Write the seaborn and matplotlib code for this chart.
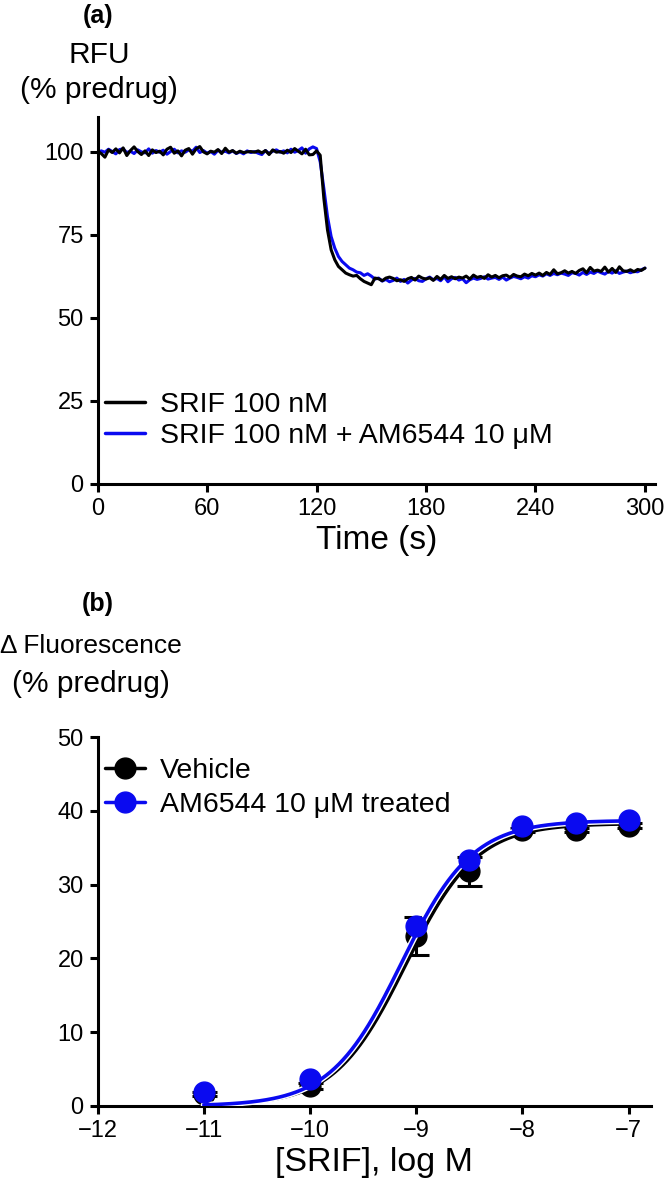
import numpy as np
import matplotlib
matplotlib.use("Agg")
import matplotlib.pyplot as plt
import matplotlib.patheffects as pe
from matplotlib.lines import Line2D
import seaborn as sns

# ---- panel (a): calcium traces, sampled every 2 s ----
time_s = list(range(0, 302, 2))
srif = [
    100.2, 99.5, 98.4, 100.6, 99.8, 100.9, 99.7, 101.2, 98.9, 100.4,
    101.5, 100.1, 99.2, 100.3, 98.9, 100.6, 99.8, 100.2, 99.1, 100.8,
    101.4, 99.6, 100.3, 98.8, 100.5, 101.0, 99.3, 100.9, 101.6, 100.0,
    99.4, 100.2, 99.9, 100.7, 99.5, 101.1, 99.9, 100.4, 99.6, 100.2,
    99.8, 100.0, 100.1, 99.9, 100.3, 99.7, 100.4, 99.2, 100.6, 99.9,
    100.1, 99.6, 100.5, 99.8, 101.0, 100.2, 99.4, 100.8, 99.1, 99.2,
    100.3,
    99.0, 86.0, 76.5, 70.5, 67.5, 65.5, 64.5, 63.5, 63.0, 62.6,
    62.8, 61.8, 61.0, 60.5, 60.0, 62.0, 61.8, 61.2, 62.0, 62.3,
    61.9, 61.2, 61.5, 61.0, 61.8, 62.2, 61.4, 62.6, 62.0, 61.7,
    62.1, 61.3, 62.5, 61.6, 62.8, 61.9, 62.4, 61.8, 62.3, 62.0,
    62.6, 61.7, 62.9, 62.2, 62.5, 61.9, 63.0, 62.3, 62.8, 62.1,
    62.7, 62.9, 62.2, 63.1, 62.6, 62.4, 63.2, 62.7, 63.4, 62.9,
    63.5, 62.8, 63.7, 63.1, 64.5, 63.3, 63.6, 64.2, 63.5, 64.0,
    63.4, 64.3, 64.8, 63.6, 65.2, 64.1, 64.4, 64.0, 65.3, 63.8,
    64.9, 63.7, 65.4, 64.2, 64.0, 64.5, 63.9, 64.6, 64.3, 65.0,
]
srif_am = [
    99.6, 100.3, 99.9, 100.8, 100.1, 99.4, 100.7, 100.9, 99.8, 100.2,
    99.5, 100.6, 100.0, 99.7, 100.9, 99.6, 100.4, 99.9, 100.5, 99.3,
    100.1, 100.8, 99.7, 100.3, 99.9, 100.6, 100.2, 101.4, 99.8, 100.4,
    99.6, 100.1, 99.3, 100.5, 99.9, 100.2, 99.7, 100.3, 99.5, 100.0,
    99.4, 100.3, 99.8, 100.1, 99.6, 99.2, 100.4, 99.5, 100.2, 100.6,
    99.9, 100.3, 99.7, 100.8, 99.9, 100.4, 101.2, 99.6, 100.9, 101.5,
    101.0,
    97.0, 89.0, 80.5, 74.5, 71.0, 68.5, 67.0, 66.0, 65.0, 64.5,
    63.8, 63.6, 62.8, 63.3, 62.6, 61.7, 62.0, 61.1, 61.6, 60.9,
    61.3, 62.0, 61.0, 61.6, 60.5, 61.4, 61.9, 61.2, 61.0, 61.8,
    62.3, 61.5, 61.9, 61.2, 62.4, 60.9, 61.8, 62.2, 61.4, 61.8,
    60.6, 61.5, 62.0, 61.6, 61.9, 62.4, 61.7, 62.0, 62.2, 61.6,
    62.3, 61.4, 62.0, 62.5, 62.2, 61.8, 62.4, 62.0, 62.7, 62.4,
    63.0, 62.6, 63.3, 62.8, 63.4, 63.0, 63.5, 63.2, 62.8, 63.6,
    63.4, 62.9, 63.7, 63.1, 63.8, 63.4, 64.1, 63.6, 63.2, 64.0,
    63.5, 64.2, 63.4, 63.8, 64.1, 63.6, 64.0, 63.9, 64.5, 65.0,
]

# ---- panel (b): concentration-response ----
log_srif = [-11, -10, -9, -8.5, -8, -7.5, -7]
vehicle = [1.6, 2.7, 23.0, 31.8, 37.4, 37.4, 38.0]
vehicle_sem = [0.3, 0.4, 2.6, 2.0, 0.3, 0.3, 0.3]
am6544 = [1.9, 3.7, 24.4, 33.3, 38.0, 38.3, 38.7]
am6544_sem = [0.3, 0.3, 0.4, 0.4, 0.3, 0.3, 0.3]
# four-parameter logistic fits (bottom, top, logEC50, Hill slope)
fit_vehicle = (0.0, 38.3, -9.10, 1.3)
fit_am6544 = (0.0, 38.7, -9.14, 1.3)

BLUE = "#0a0af0"
W, H = 665, 1191

sns.set_style("ticks")
plt.rcParams["font.family"] = ["Liberation Sans", "DejaVu Sans"]
plt.rcParams.update({
    "axes.linewidth": 2.2, "axes.edgecolor": "black", "text.color": "black",
    "axes.labelcolor": "black", "xtick.color": "black", "ytick.color": "black",
})

fig = plt.figure(figsize=(W / 100, H / 100), dpi=100)


def px_axes(left, top, right, bottom):
    return fig.add_axes([left / W, 1 - bottom / H, (right - left) / W, (bottom - top) / H])


def style_axes(ax):
    sns.despine(ax=ax)
    ax.tick_params(length=6, width=2.2, labelsize=17, direction="out", pad=4)


# panel a
ax1 = px_axes(97.6, 117, 655, 484)
sns.lineplot(x=time_s, y=srif, ax=ax1, color="black", lw=2.2, label="SRIF 100 nM")
sns.lineplot(x=time_s, y=srif_am, ax=ax1, color=BLUE, lw=2.2,
             label="SRIF 100 nM + AM6544 10 \u03bcM", zorder=1)
ax1.set_xlim(0, 305.5)
ax1.set_ylim(0, 110.5)
ax1.set_xticks([0, 60, 120, 180, 240, 300])
ax1.set_yticks([0, 25, 50, 75, 100])
ax1.set_xlabel("Time (s)", fontsize=24, labelpad=4)
ax1.set_ylabel("")
style_axes(ax1)
leg = ax1.legend(loc="center left", bbox_to_anchor=(0.013, 0.172), frameon=False,
                 fontsize=20.5, handlelength=1.4, handletextpad=0.55,
                 labelspacing=0.18, borderpad=0, borderaxespad=0)
for h in leg.get_lines():
    h.set_linewidth(2.5)

fig.text(98 / W, 1 - 16 / H, "(a)", ha="center", va="center", fontsize=18, fontweight="bold")
fig.text(99 / W, 1 - 55 / H, "RFU", ha="center", va="center", fontsize=21.5)
fig.text(99 / W, 1 - 90 / H, "(% predrug)", ha="center", va="center", fontsize=21.5)

# panel b
ax2 = px_axes(97.6, 737, 651, 1106)
xs = np.linspace(-11, -7, 300)


def logistic(x, p):
    bottom, top, logec50, hill = p
    return bottom + (top - bottom) / (1 + 10 ** ((logec50 - x) * hill))


ax2.errorbar(log_srif, vehicle, yerr=vehicle_sem, fmt="o", color="black", ms=15,
             capsize=9, elinewidth=2.2, capthick=2.2, zorder=2)
sns.lineplot(x=xs, y=logistic(xs, fit_vehicle), ax=ax2, color="black", lw=2.6, zorder=3)
sns.lineplot(x=xs, y=logistic(xs, fit_am6544), ax=ax2, color=BLUE, lw=2.6, zorder=4,
             path_effects=[pe.Stroke(linewidth=4.6, foreground="white"), pe.Normal()])
ax2.errorbar(log_srif, am6544, yerr=am6544_sem, fmt="o", color=BLUE, ms=15,
             capsize=5, elinewidth=2.2, capthick=2.2, zorder=5)
ax2.set_xlim(-12, -6.79)
ax2.set_ylim(0, 50)
ax2.set_xticks([-12, -11, -10, -9, -8, -7])
ax2.set_yticks([0, 10, 20, 30, 40, 50])
ax2.set_xlabel("[SRIF], log M", fontsize=24.5, labelpad=4)
ax2.set_ylabel("")
style_axes(ax2)
handles = [
    Line2D([], [], color="black", marker="o", ms=15, lw=2.5),
    Line2D([], [], color=BLUE, marker="o", ms=15, lw=2.5),
]
ax2.legend(handles, ["Vehicle", "AM6544 10 \u03bcM treated"], loc="center left",
           bbox_to_anchor=(0.013, 0.862), frameon=False, fontsize=20.5,
           handlelength=1.4, handletextpad=0.55, labelspacing=0.3,
           borderpad=0, borderaxespad=0)

fig.text(98 / W, 1 - 604 / H, "(b)", ha="center", va="center", fontsize=18, fontweight="bold")
fig.text(91 / W, 1 - 646 / H, "\u0394 Fluorescence", ha="center", va="center", fontsize=19)
fig.text(91 / W, 1 - 684 / H, "(% predrug)", ha="center", va="center", fontsize=21.5)

fig.savefig("out.png", dpi=100, facecolor="white")
